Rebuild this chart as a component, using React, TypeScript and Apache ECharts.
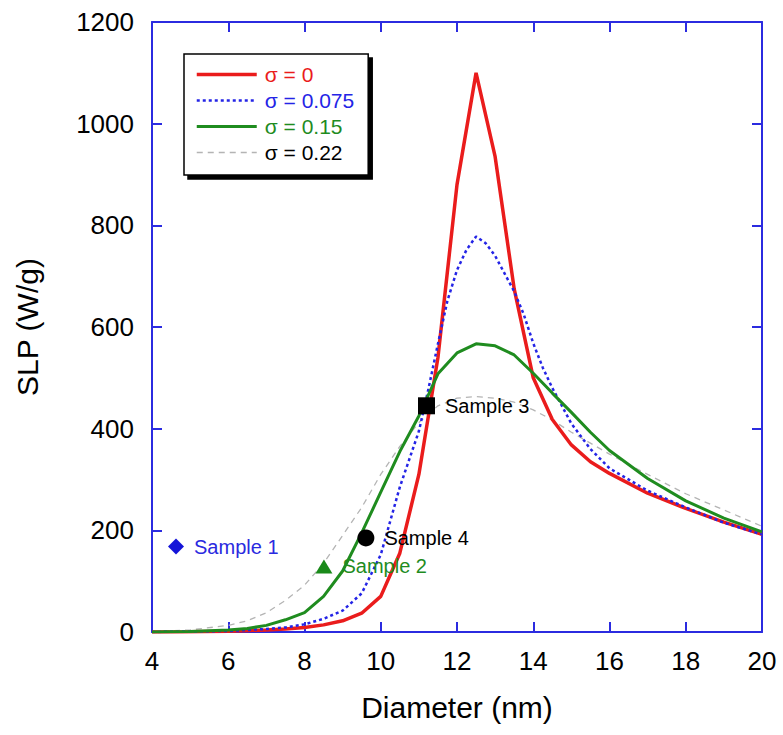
import React, { useEffect, useRef } from "react";
import * as echarts from "echarts";

// ---- Data ----
const seriesNames = ["σ = 0", "σ = 0.075", "σ = 0.15", "σ = 0.22"];

const redX = [4, 5, 6, 7, 7.5, 8, 8.5, 9, 9.5, 10, 10.5, 11, 11.5, 12, 12.5, 13, 13.5, 14, 14.5, 15, 15.5, 16, 17, 18, 19, 20];
const redY = [0, 0.5, 1.5, 4, 6, 9, 14, 22, 37, 70, 155, 310, 540, 880, 1100, 935, 675, 500, 418, 368, 335, 312, 273, 243, 216, 192];

const blueX = [4, 5, 6, 7, 7.5, 8, 8.5, 9, 9.5, 10, 10.5, 11, 11.25, 11.5, 11.75, 12, 12.25, 12.5, 12.75, 13, 13.25, 13.5, 13.75, 14, 14.25, 14.5, 15, 15.5, 16, 17, 18, 19, 20];
const blueY = [0, 1, 2, 6, 9, 15, 26, 42, 76, 152, 285, 395, 478, 567, 652, 712, 752, 778, 765, 740, 705, 670, 625, 568, 520, 480, 410, 360, 322, 278, 245, 215, 192];

const greenX = [4, 5, 6, 6.5, 7, 7.5, 8, 8.5, 9, 9.5, 10, 10.5, 11, 11.5, 12, 12.5, 13, 13.5, 14, 14.5, 15, 15.5, 16, 17, 18, 19, 20];
const greenY = [0, 1, 4, 7, 13, 24, 38, 70, 120, 195, 275, 355, 425, 508, 549, 567, 563, 545, 509, 470, 432, 393, 357, 302, 258, 224, 197];

const grayX = [4, 5, 6, 6.5, 7, 7.5, 8, 8.5, 9, 9.5, 10, 10.5, 11, 11.5, 12, 12.5, 13, 13.5, 14, 14.5, 15, 16, 17, 18, 19, 20];
const grayY = [1, 4, 13, 22, 38, 62, 92, 135, 190, 245, 310, 365, 412, 445, 460, 463, 460, 452, 437, 417, 393, 350, 310, 272, 240, 208];

const sampleNames = ["Sample 1", "Sample 2", "Sample 3", "Sample 4"];
const sampleDiameter = [4.63, 8.51, 11.2, 9.61];
const sampleSLP = [168, 129, 445, 185];

const xTicks = { min: 4, max: 20, step: 2 };
const yTicks = { min: 0, max: 1200, step: 200 };

// ---- Styles ----
const FONT = '"Liberation Sans", Arial, Helvetica, sans-serif';
const AXIS_BLUE = "#2b2be0";
const RED = "#ea1c1c";
const BLUE = "#2424e6";
const GREEN = "#1f8c1f";
const GRAY = "#b4b4b4";

const lineStyles = [
  { color: RED, width: 3.5, type: "solid" },
  { color: BLUE, width: 2.5, type: [3, 3] },
  { color: GREEN, width: 3, type: "solid" },
  { color: GRAY, width: 1.3, type: [6, 5] },
];
const legendTextColors = [RED, BLUE, GREEN, "#000"];

const sampleStyles = [
  { symbol: "diamond", size: [16, 16], color: "#1414d8", labelColor: "#2a2ae0" },
  { symbol: "triangle", size: [17, 14], color: "#1a8a1a", labelColor: "#1f8c1f" },
  { symbol: "rect", size: [17, 17], color: "#000", labelColor: "#000" },
  { symbol: "circle", size: [17, 17], color: "#000", labelColor: "#000" },
];

const zip = (xs: number[], ys: number[]) => xs.map((x, i) => [x, ys[i]]);

export default function App() {
  const ref = useRef<HTMLDivElement | null>(null);

  useEffect(() => {
    if (!ref.current) return;
    const chart = echarts.init(ref.current, undefined, { renderer: "svg" });

    const axisCommon = {
      axisLine: { show: true, onZero: false, lineStyle: { color: AXIS_BLUE, width: 2 } },
      axisTick: { show: true, inside: true, length: 10, lineStyle: { color: AXIS_BLUE, width: 2 } },
      splitLine: { show: false },
    };

    const lineSeries = (name: string, xs: number[], ys: number[], lineStyle: any, z: number) => ({
      type: "line",
      name,
      data: zip(xs, ys),
      symbol: "none",
      showSymbol: false,
      smooth: false,
      lineStyle,
      itemStyle: { color: lineStyle.color },
      z,
      xAxisIndex: 0,
      yAxisIndex: 0,
    });

    const option: any = {
      animation: false,
      backgroundColor: "#ffffff",
      textStyle: { fontFamily: FONT },
      grid: { left: 152, right: 21, top: 22, bottom: 103, containLabel: false },
      xAxis: [
        {
          type: "value",
          position: "bottom",
          min: xTicks.min,
          max: xTicks.max,
          interval: xTicks.step,
          ...axisCommon,
          axisLabel: { color: "#000", fontSize: 26, margin: 16, fontFamily: FONT, formatter: (v: number) => String(v) },
          name: "Diameter (nm)",
          nameLocation: "middle",
          nameGap: 60,
          nameTextStyle: { color: "#000", fontSize: 30, fontFamily: FONT },
        },
        {
          type: "value",
          position: "top",
          min: xTicks.min,
          max: xTicks.max,
          interval: xTicks.step,
          ...axisCommon,
          axisLabel: { show: false },
        },
      ],
      yAxis: [
        {
          type: "value",
          position: "left",
          min: yTicks.min,
          max: yTicks.max,
          interval: yTicks.step,
          ...axisCommon,
          axisLabel: { color: "#000", fontSize: 26, margin: 18, fontFamily: FONT, formatter: (v: number) => String(v) },
          name: "SLP (W/g)",
          nameLocation: "middle",
          nameGap: 110,
          nameRotate: 90,
          nameTextStyle: { color: "#000", fontSize: 30, fontFamily: FONT },
        },
        {
          type: "value",
          position: "right",
          min: yTicks.min,
          max: yTicks.max,
          interval: yTicks.step,
          ...axisCommon,
          axisLabel: { show: false },
        },
      ],
      legend: {
        orient: "vertical",
        left: 184,
        top: 54,
        padding: [10, 14, 12, 11],
        itemGap: 5,
        itemWidth: 60,
        itemHeight: 14,
        backgroundColor: "#ffffff",
        borderColor: "#000",
        borderWidth: 1.5,
        shadowColor: "#000",
        shadowBlur: 0,
        shadowOffsetX: 4,
        shadowOffsetY: 4,
        selectedMode: false,
        itemStyle: { opacity: 0, borderWidth: 0 },
        textStyle: { fontSize: 21, fontFamily: FONT, padding: [0, 0, 0, 3] },
        data: seriesNames.map((n, i) => ({
          name: n,
          textStyle: { color: legendTextColors[i] },
          lineStyle: { width: lineStyles[i].width, color: lineStyles[i].color, type: lineStyles[i].type },
        })),
        z: 10,
      },
      series: [
        lineSeries(seriesNames[3], grayX, grayY, lineStyles[3], 2),
        lineSeries(seriesNames[0], redX, redY, lineStyles[0], 3),
        lineSeries(seriesNames[1], blueX, blueY, lineStyles[1], 4),
        lineSeries(seriesNames[2], greenX, greenY, lineStyles[2], 5),
        {
          type: "scatter",
          name: "Samples",
          xAxisIndex: 0,
          yAxisIndex: 0,
          z: 8,
          data: sampleNames.map((n, i) => ({
            name: n,
            value: [sampleDiameter[i], sampleSLP[i]],
            symbol: sampleStyles[i].symbol,
            symbolSize: sampleStyles[i].size,
            itemStyle: { color: sampleStyles[i].color, opacity: 1 },
            label: {
              show: true,
              position: "right",
              distance: 10,
              formatter: "{b}",
              color: sampleStyles[i].labelColor,
              fontSize: 20,
              fontFamily: FONT,
            },
          })),
        },
      ],
    };

    chart.setOption(option);
    return () => chart.dispose();
  }, []);

  return (
    <div
      ref={ref}
      style={{ position: "fixed", left: 0, top: 0, width: 783, height: 735, background: "#fff" }}
    />
  );
}
